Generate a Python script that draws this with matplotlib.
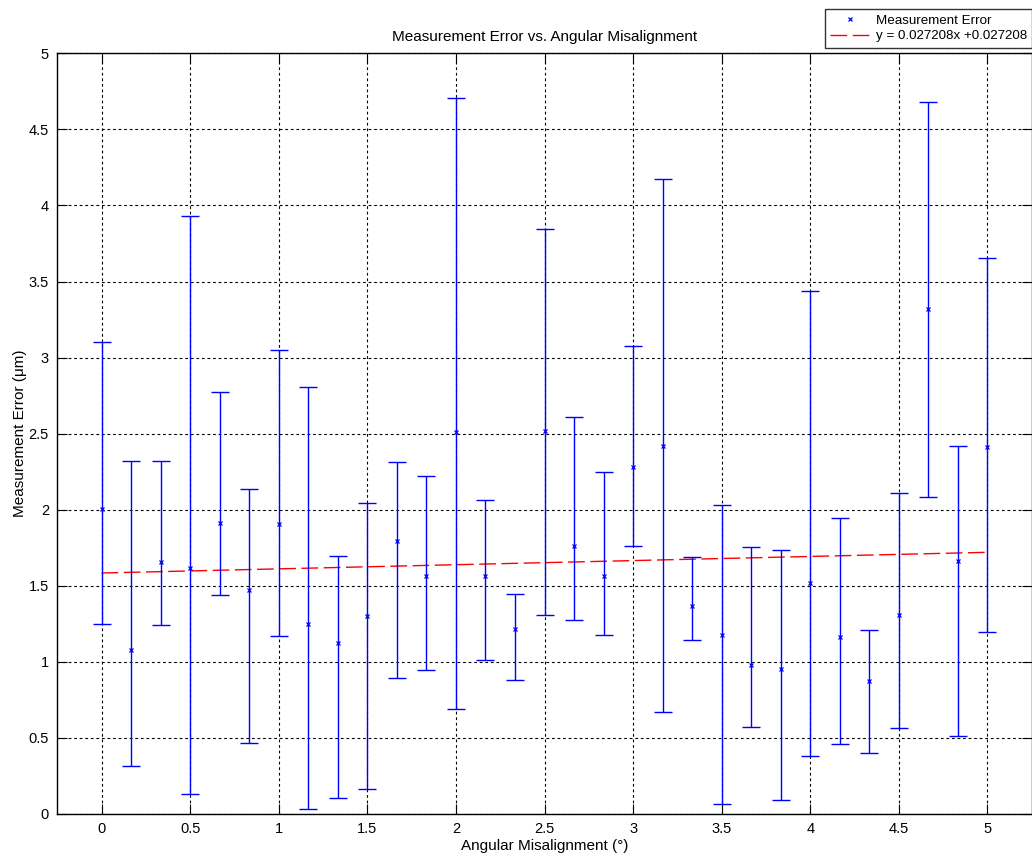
import matplotlib
matplotlib.use("Agg")
import matplotlib.pyplot as plt
import numpy as np
from matplotlib.lines import Line2D

plt.rcParams["font.family"] = ["Liberation Sans", "DejaVu Sans"]

# misalignment steps of 1/6 degree, 0..5
angle = np.arange(31) / 6.0

err_mean = [2.005, 1.078, 1.657, 1.617, 1.912, 1.472, 1.906, 1.249,
            1.122, 1.299, 1.792, 1.562, 2.511, 1.562, 1.218, 2.520,
            1.763, 1.561, 2.282, 2.421, 1.367, 1.177, 0.981, 0.951,
            1.516, 1.162, 0.874, 1.308, 3.317, 1.662, 2.415]
err_high = [3.100, 2.320, 2.320, 3.930, 2.772, 2.134, 3.051, 2.804,
            1.696, 2.046, 2.316, 2.223, 4.706, 2.064, 1.445, 3.844,
            2.608, 2.249, 3.079, 4.171, 1.690, 2.031, 1.757, 1.736,
            3.438, 1.944, 1.209, 2.108, 4.678, 2.418, 3.655]
err_low = [1.250, 0.314, 1.241, 0.131, 1.442, 0.464, 1.169, 0.032,
           0.102, 0.164, 0.893, 0.945, 0.688, 1.011, 0.880, 1.311,
           1.274, 1.177, 1.763, 0.670, 1.144, 0.066, 0.573, 0.091,
           0.378, 0.459, 0.400, 0.564, 2.083, 0.511, 1.193]

fit_slope = 0.027208
fit_intercept = 1.584
fit_label = "y = 0.027208x +0.027208"

tick_vals = np.arange(0, 5.01, 0.5)
tick_text = ["0", "0.5", "1", "1.5", "2", "2.5", "3", "3.5", "4", "4.5", "5"]

mean = np.array(err_mean)
yerr = np.vstack([mean - np.array(err_low), np.array(err_high) - mean])

fig = plt.figure(figsize=(10.32, 8.57), dpi=100)
ax = fig.add_axes([0.0555, 0.0502, 0.9443, 0.8876])

ax.errorbar(angle, mean, yerr=yerr, fmt="none", ecolor="blue",
            elinewidth=1.0, capsize=6.5, capthick=1.0, zorder=3)
ax.plot(angle, mean, ls="none", marker="x", ms=3.5, mew=0.9,
        color="blue", zorder=4)

fit_x = np.array([angle[0], angle[-1]])
ax.plot(fit_x, fit_slope * fit_x + fit_intercept, color="red", lw=1.0,
        ls=(0, (12, 4)), zorder=2)

ax.set_xlim(-0.25, 5.25)
ax.set_ylim(0, 5)
ax.set_xticks(tick_vals)
ax.set_yticks(tick_vals)
ax.set_xticklabels(tick_text)
ax.set_yticklabels(tick_text)
ax.tick_params(direction="in", length=7, width=0.8, top=True, right=True,
               labelsize=10.5, colors="black", pad=6)
ax.grid(True, color="black", ls=(0, (2.5, 2.5)), lw=0.8)
for s in ax.spines.values():
    s.set_linewidth(1.0)

ax.set_title("Measurement Error vs. Angular Misalignment", fontsize=11, pad=9)
ax.set_xlabel("Angular Misalignment (°)", fontsize=11, labelpad=2)
ax.set_ylabel("Measurement Error (μm)", fontsize=11, labelpad=1)

handles = [
    Line2D([], [], ls="none", marker="x", ms=3.5, mew=0.9, color="blue"),
    Line2D([], [], color="red", lw=1.0, ls=(0, (12, 4))),
]
leg = ax.legend(handles, ["Measurement Error", fit_label],
                loc="upper left", bbox_to_anchor=(825 / 1032, 1 - 9 / 857),
                bbox_transform=fig.transFigure, fontsize=9.6,
                frameon=True, fancybox=False, borderaxespad=0,
                handlelength=3.0, borderpad=0.4, labelspacing=0.25,
                handletextpad=0.4)
leg.get_frame().set_edgecolor("black")
leg.get_frame().set_linewidth(1.0)

fig.savefig("out.png", dpi=100)
